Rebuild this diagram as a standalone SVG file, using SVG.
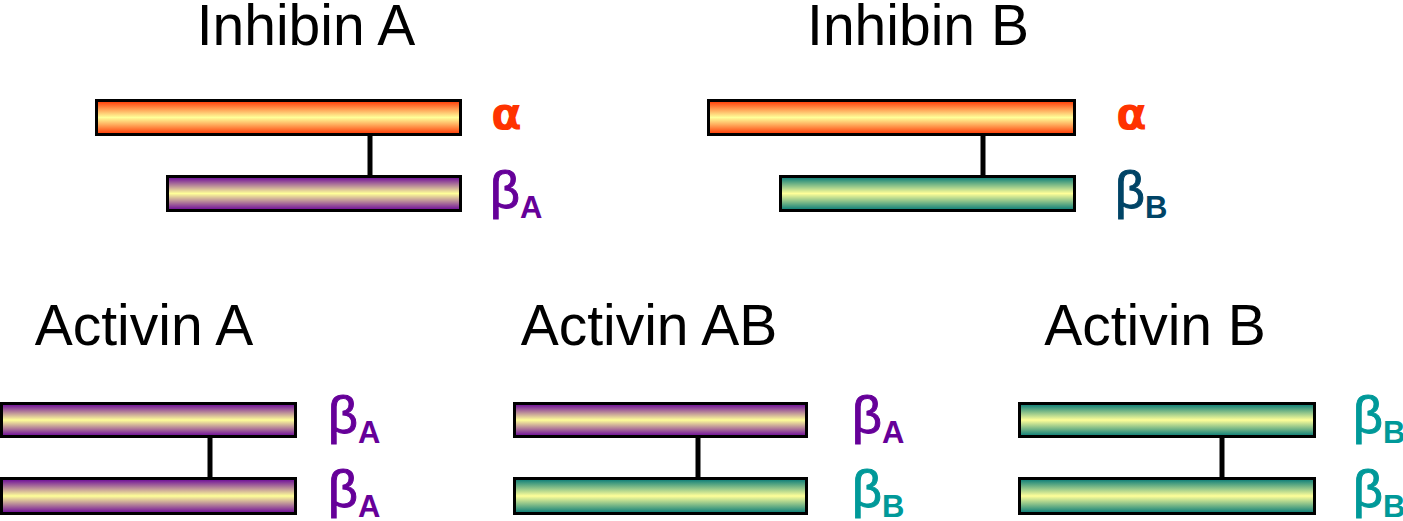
<svg xmlns="http://www.w3.org/2000/svg" width="1403" height="521" viewBox="0 0 1403 521">
<defs>
<linearGradient id="gAlpha" x1="0" y1="0" x2="0" y2="1">
<stop offset="0" stop-color="#ff3300"/><stop offset="0.3" stop-color="#ffb060"/><stop offset="0.5" stop-color="#ffff99"/><stop offset="0.7" stop-color="#ffb060"/><stop offset="1" stop-color="#ff3300"/>
</linearGradient>
<linearGradient id="gBA" x1="0" y1="0" x2="0" y2="1">
<stop offset="0" stop-color="#660099"/><stop offset="0.5" stop-color="#ffff99"/><stop offset="1" stop-color="#660099"/>
</linearGradient>
<linearGradient id="gBB" x1="0" y1="0" x2="0" y2="1">
<stop offset="0" stop-color="#007777"/><stop offset="0.5" stop-color="#ffff99"/><stop offset="1" stop-color="#007777"/>
</linearGradient>
</defs>
<style>
.bar{stroke:#000;stroke-width:3}
.a{fill:url(#gAlpha)}
.ba{fill:url(#gBA)}
.bb{fill:url(#gBB)}
.title{font-family:"Liberation Sans",Arial,sans-serif;font-size:57px;fill:#000}
.al{font-family:"DejaVu Sans","Liberation Sans",sans-serif;font-weight:bold;font-size:45px}
.lbl{font-family:"Liberation Sans",Arial,sans-serif;font-size:52px;stroke-width:1}
.sub{font-family:"Liberation Sans",Arial,sans-serif;font-weight:bold;font-size:31px;stroke:none}
.red{fill:#ff3300}
.pur{fill:#660099;stroke:#660099}
.dk{fill:#004466;stroke:#004466}
.tl{fill:#009999;stroke:#009999}
.link{stroke:#000;stroke-width:5}
</style>
<g id="inhibinA">
<text class="title" x="306" y="45" text-anchor="middle">Inhibin A</text>
<rect class="bar a" x="96.5" y="100.5" width="364" height="34"/>
<rect class="bar ba" x="167.5" y="176.5" width="293" height="34"/>
<text class="al red" x="491" y="129">α</text>
<text class="lbl pur" x="490" y="208">β<tspan class="sub" y="218">A</tspan></text>
</g>
<g id="inhibinB">
<text class="title" x="918" y="45" text-anchor="middle">Inhibin B</text>
<rect class="bar a" x="708.5" y="100.5" width="366" height="34"/>
<rect class="bar bb" x="780.5" y="176.5" width="294" height="34"/>
<text class="al red" x="1116" y="129">α</text>
<text class="lbl dk" x="1115" y="208">β<tspan class="sub" y="218">B</tspan></text>
</g>
<g id="activinA">
<text class="title" x="144" y="345" text-anchor="middle">Activin A</text>
<rect class="bar ba" x="1.5" y="403.5" width="294" height="33"/>
<rect class="bar ba" x="1.5" y="478.5" width="294" height="35"/>
<text class="lbl pur" x="328" y="433">β<tspan class="sub" y="443">A</tspan></text>
<text class="lbl pur" x="328" y="507">β<tspan class="sub" y="517">A</tspan></text>
</g>
<g id="activinAB">
<text class="title" x="649" y="345" text-anchor="middle">Activin AB</text>
<rect class="bar ba" x="514.5" y="403.5" width="292" height="33"/>
<rect class="bar bb" x="514.5" y="478.5" width="292" height="35"/>
<text class="lbl pur" x="852" y="433">β<tspan class="sub" y="443">A</tspan></text>
<text class="lbl tl" x="852" y="507">β<tspan class="sub" y="517">B</tspan></text>
</g>
<g id="activinB">
<text class="title" x="1155" y="345" text-anchor="middle">Activin B</text>
<rect class="bar bb" x="1019.5" y="403.5" width="295" height="33"/>
<rect class="bar bb" x="1019.5" y="478.5" width="295" height="35"/>
<text class="lbl tl" x="1353" y="433">β<tspan class="sub" y="443">B</tspan></text>
<text class="lbl tl" x="1353" y="507">β<tspan class="sub" y="517">B</tspan></text>
</g>
<g id="connectors">
<line class="link" x1="370" y1="136" x2="370" y2="175"/>
<line class="link" x1="983" y1="136" x2="983" y2="175"/>
<line class="link" x1="210" y1="438" x2="210" y2="477"/>
<line class="link" x1="698" y1="438" x2="698" y2="477"/>
<line class="link" x1="1222" y1="438" x2="1222" y2="477"/>
</g>
</svg>
